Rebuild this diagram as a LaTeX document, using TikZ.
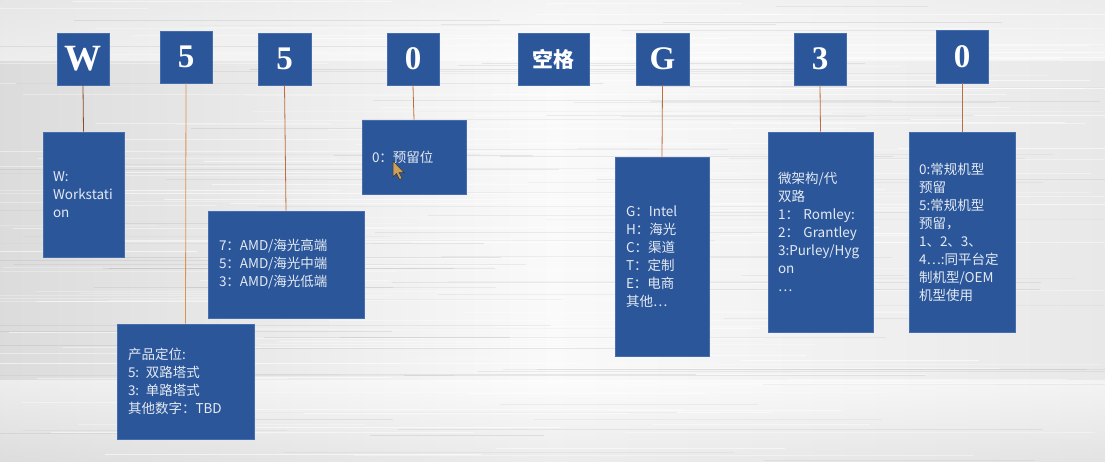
\documentclass[tikz,border=0pt]{standalone}
\usepackage{fontspec}
\setmainfont{Liberation Serif}
\newfontfamily\cjk{Noto Sans CJK SC}
\definecolor{boxblue}{RGB}{43,87,154}
\definecolor{boxedge}{RGB}{70,110,175}
\definecolor{desctext}{RGB}{228,233,242}
\definecolor{linec}{RGB}{190,110,60}
\definecolor{cursorc}{RGB}{205,160,90}
\tikzset{
  topbox/.style={fill=boxblue, draw=boxedge, line width=0.6pt, text=white, inner sep=0pt,
    minimum height=52pt, font=\fontsize{33}{33}\selectfont\bfseries},
  descbox/.style={fill=boxblue, draw=boxedge, line width=0.6pt, text=desctext, align=left,
    inner xsep=10pt, inner ysep=0pt, font=\cjk\fontsize{13.5}{18}\selectfont},
  conn/.style={draw=linec, line width=0.8pt}
}
\begin{document}
\begin{tikzpicture}[x=1pt,y=-1pt]
\useasboundingbox (0,0) rectangle (1105,461);
% brushed-metal background
\begin{scope}
\clip (0,0) rectangle (1105,461);
\shade[left color=gray!28, right color=gray!18, middle color=gray!4] (0,0) rectangle (1105,461);
\shade[top color=gray!12, bottom color=white, opacity=0.5] (0,0) rectangle (1105,60);
\shade[top color=white, bottom color=gray!25, opacity=0.5] (0,380) rectangle (1105,461);
\pgfmathsetseed{7}
\foreach \i in {1,...,160}{
  \pgfmathsetmacro\yy{rnd*461}
  \pgfmathsetmacro\xa{rnd*900-100}
  \pgfmathsetmacro\len{150+rnd*500}
  \pgfmathsetmacro\op{0.2+0.4*rnd}
  \draw[white, opacity=\op, line width=1pt] (\xa,\yy) -- ++(\len,0);
}
\foreach \i in {1,...,90}{
  \pgfmathsetmacro\yy{rnd*461}
  \pgfmathsetmacro\xa{rnd*900-100}
  \pgfmathsetmacro\len{150+rnd*500}
  \pgfmathsetmacro\op{0.05+0.12*rnd}
  \draw[gray, opacity=\op, line width=0.8pt] (\xa,\yy) -- ++(\len,0);
}
\end{scope}

% top code boxes
\node[topbox, minimum width=52pt, font=\fontsize{37}{37}\selectfont\bfseries] (tW) at (83,59) {W};
\node[topbox, minimum width=52pt] (t5a) at (186,57) {5};
\node[topbox, minimum width=53pt] (t5b) at (284.5,59) {5};
\node[topbox, minimum width=52pt] (t0a) at (413,59) {0};
\node[topbox, minimum width=71pt, font=\cjk\fontsize{21}{21}\selectfont\bfseries] (tsp) at (553.5,59) {空格};
\node[topbox, minimum width=53pt] (tG) at (662.5,59) {G};
\node[topbox, minimum width=52pt] (t3) at (820,59) {3};
\node[topbox, minimum width=52pt, minimum height=53pt] (t0b) at (962,56.5) {0};

% description boxes
\node[descbox, text width=61pt, minimum height=125pt] (dW) at (83.5,194.5) {W:\\Workstati\\on};
\node[descbox, text width=115pt, inner xsep=11pt, minimum height=115pt] (d5a) at (185.5,381.5)
  {产品定位:\\5: 双路塔式\\3: 单路塔式\\其他数字：TBD};
\node[descbox, text width=134pt, inner xsep=11pt, minimum height=107pt] (d5b) at (286,264.5)
  {7：AMD/海光高端\\5：AMD/海光中端\\3：AMD/海光低端};
\node[descbox, text width=84pt, minimum height=74pt] (d0a) at (414,157) {0：预留位};
\node[descbox, text width=72pt, inner xsep=11pt, minimum height=199pt] (dG) at (662,256.5)
  {G：Intel\\H：海光\\C：渠道\\T：定制\\E：电商\\其他…};
\node[descbox, text width=85pt, minimum height=200pt] (d3) at (820.5,232)
  {微架构/代\\双路\\1： Romley:\\2： Grantley\\3:Purley/Hyg\\on\\…};
\node[descbox, text width=86pt, minimum height=200pt] (d0b) at (962,232)
  {0:常规机型\\预留\\5:常规机型\\预留，\\1、2、3、\\4…:同平台定\\制机型/OEM\\机型使用};

% connectors
\draw[conn, draw=linec!70!black] (tW.south) -- (dW.north);
\draw[conn, draw=linec!60!orange!80!white] (t5a.south) -- (d5a.north);
\draw[conn] (t5b.south) -- (d5b.north);
\draw[conn] (t0a.south) -- (d0a.north);
\draw[conn] (tG.south) -- (dG.north);
\draw[conn] (t3.south) -- (d3.north);
\draw[conn] (t0b.south) -- (d0b.north);

% mouse pointer
\filldraw[fill=cursorc, draw=black!80, line width=0.5pt]
  (393,161) -- ++(0,16) -- ++(3.5,-3.5) -- ++(3,6) -- ++(2.5,-1.2) -- ++(-3,-5.8) -- ++(5,0) -- cycle;
\end{tikzpicture}
\end{document}
